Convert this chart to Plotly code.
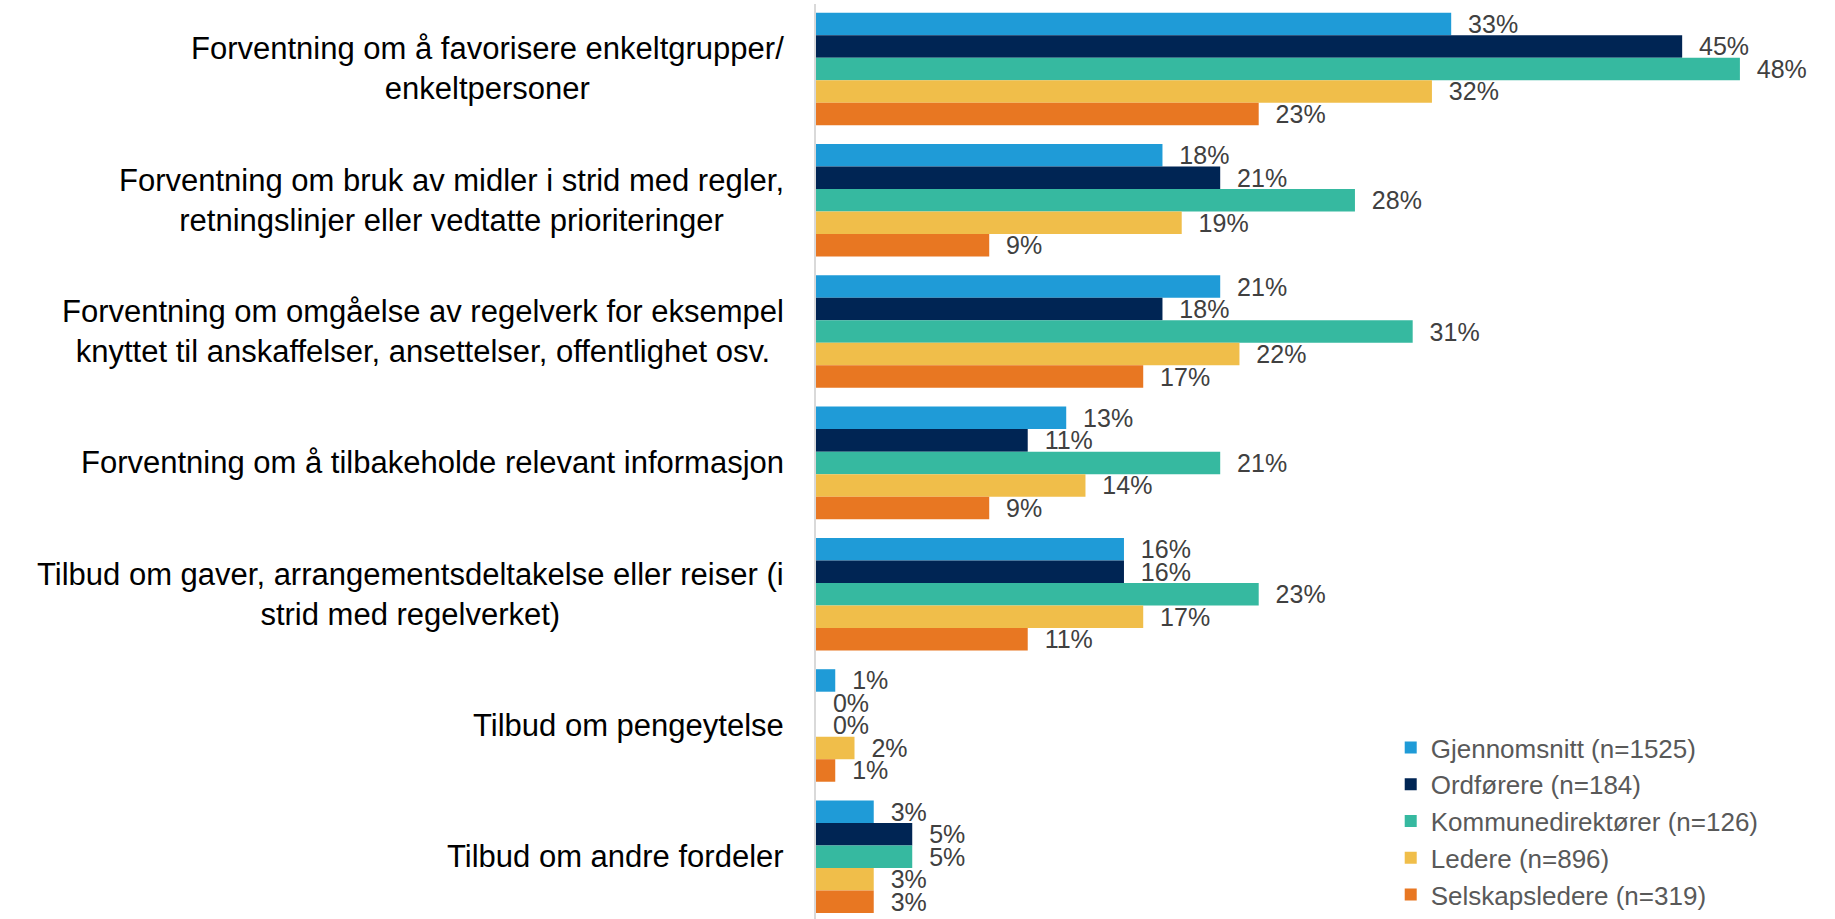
import plotly.graph_objects as go

categories = [
    "Forventning om å favorisere enkeltgrupper/<br>enkeltpersoner",
    "Forventning om bruk av midler i strid med regler,<br>retningslinjer eller vedtatte prioriteringer",
    "Forventning om omgåelse av regelverk for eksempel<br>knyttet til anskaffelser, ansettelser, offentlighet osv.",
    "Forventning om å tilbakeholde relevant informasjon",
    "Tilbud om gaver, arrangementsdeltakelse eller reiser (i<br>strid med regelverket)",
    "Tilbud om pengeytelse",
    "Tilbud om andre fordeler",
]

series_names = [
    "Gjennomsnitt (n=1525)",
    "Ordførere (n=184)",
    "Kommunedirektører (n=126)",
    "Ledere (n=896)",
    "Selskapsledere (n=319)",
]

gjennomsnitt = [33, 18, 21, 13, 16, 1, 3]
ordforere = [45, 21, 18, 11, 16, 0, 5]
kommunedirektorer = [48, 28, 31, 21, 23, 0, 5]
ledere = [32, 19, 22, 14, 17, 2, 3]
selskapsledere = [23, 9, 17, 9, 11, 1, 3]

colors = ["#1f9bd7", "#002554", "#36b9a0", "#f0be4a", "#e87722"]

fig = go.Figure()
for name, vals, col in zip(series_names,
                           [gjennomsnitt, ordforere, kommunedirektorer, ledere, selskapsledere],
                           colors):
    fig.add_trace(go.Bar(
        y=list(range(len(categories))), x=vals, name=name, orientation="h",
        marker=dict(color=col, line=dict(width=0)),
        text=[f"\u00a0\u00a0{v}%" for v in vals], textposition="outside",
        textfont=dict(family="Liberation Sans, Arial", size=25, color="#404040"),
        constraintext="none", cliponaxis=False,
    ))

for i, c in enumerate(categories):
    fig.add_annotation(
        x=0, xref="paper", y=i, yref="y", text=c, showarrow=False,
        xanchor="right", align="center", xshift=-30,
        font=dict(family="Liberation Sans, Arial", size=31, color="#000000"),
    )

fig.update_layout(
    width=1835, height=919,
    barmode="group", bargap=0.143, bargroupgap=0,
    plot_bgcolor="white", paper_bgcolor="white",
    margin=dict(l=816, r=0, t=4, b=0),
    xaxis=dict(range=[0, 52.94], visible=False),
    yaxis=dict(range=[6.474, -0.495], showticklabels=False, showgrid=False,
               zeroline=False, showline=True, linecolor="#d9d9d9", linewidth=2,
               ticks=""),
    legend=dict(x=0.564, xanchor="left", y=0, yanchor="bottom",
                font=dict(family="Liberation Sans, Arial", size=26, color="#595959"),
                bgcolor="rgba(0,0,0,0)", tracegroupgap=0, itemwidth=30),
    showlegend=True,
)

fig.write_html("out.html", config={"displayModeBar": False},
               post_script="document.body.style.margin='0';")
